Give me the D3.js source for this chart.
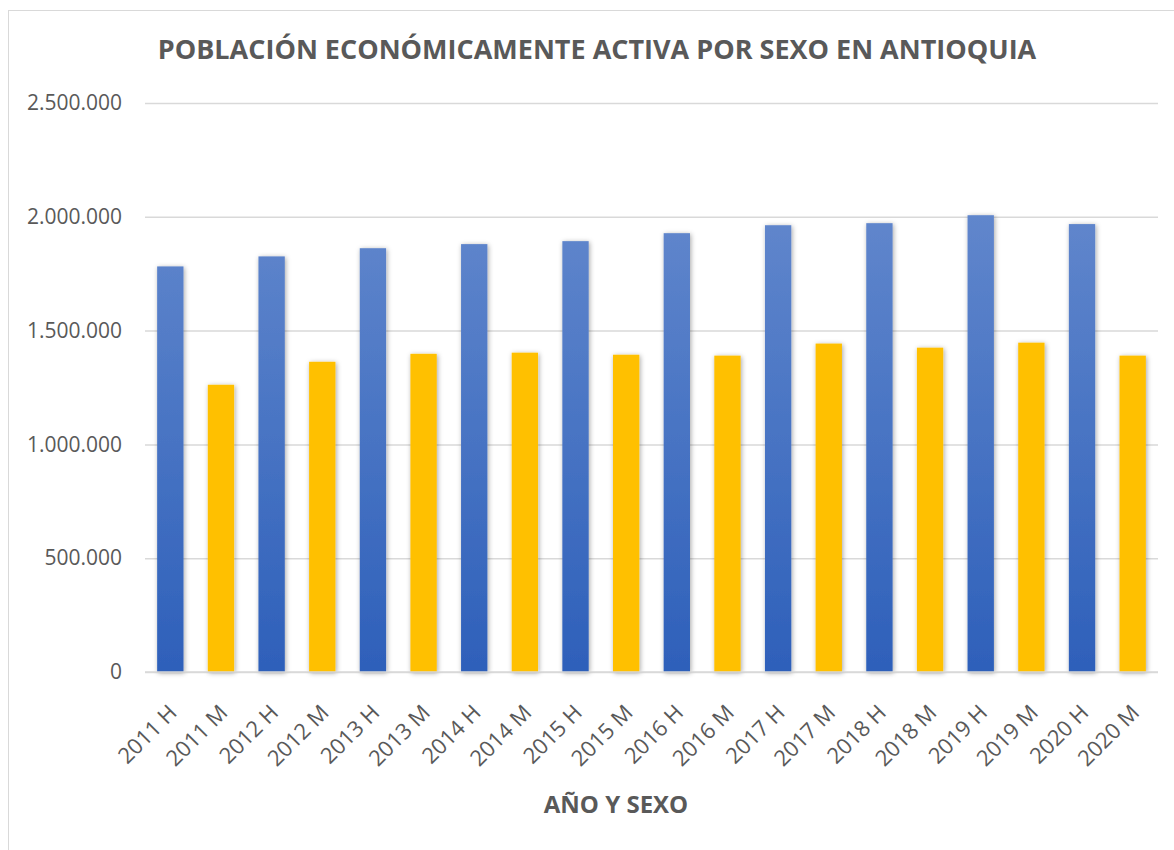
<!DOCTYPE html>
<html lang="es">
<head>
<meta charset="utf-8">
<script src="https://cdn.jsdelivr.net/npm/d3@7"></script>
<style>
  html, body { margin: 0; padding: 0; background: #ffffff; }
  svg { display: block; font-family: "Open Sans", "Noto Sans", sans-serif; }
</style>
</head>
<body>
<svg id="chart" width="1174" height="850"></svg>
<script>
// Población económicamente activa en Antioquia, por año y sexo (H = hombres, M = mujeres)
const categories = [
  "2011 H", "2011 M", "2012 H", "2012 M", "2013 H", "2013 M", "2014 H", "2014 M",
  "2015 H", "2015 M", "2016 H", "2016 M", "2017 H", "2017 M", "2018 H", "2018 M",
  "2019 H", "2019 M", "2020 H", "2020 M"
];
const values = [
  1782000, 1262000, 1826000, 1363000, 1862000, 1398000, 1880000, 1403000,
  1893000, 1394000, 1928000, 1390000, 1963000, 1443000, 1972000, 1425000,
  2007000, 1447000, 1968000, 1390000
];
const sexes = categories.map(c => c.slice(-1));
const yTicks = [0, 500000, 1000000, 1500000, 2000000, 2500000];
const title = "POBLACIÓN ECONÓMICAMENTE ACTIVA POR SEXO EN ANTIOQUIA";
const xTitle = "AÑO Y SEXO";

const svg = d3.select("#chart");
const textColor = "#595959";
const gridColor = "#d9d9d9";

// chart frame
svg.append("rect")
  .attr("x", 8.5).attr("y", 10.5)
  .attr("width", 1180).attr("height", 860)
  .attr("fill", "#ffffff")
  .attr("stroke", "#d9d9d9").attr("stroke-width", 1);

const plot = { left: 145, right: 1158, top: 103, bottom: 672 };

const x = d3.scaleBand()
  .domain(categories)
  .range([plot.left, plot.right])
  .paddingInner(0.48)
  .paddingOuter(0.24);

const y = d3.scaleLinear()
  .domain([0, 2500000])
  .range([plot.bottom, plot.top]);

const defs = svg.append("defs");
const grad = defs.append("linearGradient")
  .attr("id", "blueFill")
  .attr("gradientUnits", "userSpaceOnUse")
  .attr("x1", 0).attr("y1", y(0)).attr("x2", 0).attr("y2", y(2000000));
grad.append("stop").attr("offset", "0%").attr("stop-color", "#2e60ba");
grad.append("stop").attr("offset", "100%").attr("stop-color", "#6086cc");

const shadow = defs.append("filter")
  .attr("id", "barShadow")
  .attr("x", "-40%").attr("y", "-10%").attr("width", "180%").attr("height", "120%");
shadow.append("feDropShadow")
  .attr("dx", 1).attr("dy", 1)
  .attr("stdDeviation", 2.5)
  .attr("flood-color", "#000000")
  .attr("flood-opacity", 0.35);

// gridlines and value labels
const yAxis = d3.axisLeft(y)
  .tickValues(yTicks)
  .tickSize(-(plot.right - plot.left))
  .tickPadding(23)
  .tickFormat(d => d3.format(",")(d).replace(/,/g, "."));

const gy = svg.append("g")
  .attr("transform", `translate(${plot.left},0)`)
  .call(yAxis);
gy.select(".domain").remove();
gy.selectAll(".tick line")
  .attr("stroke", gridColor)
  .attr("stroke-width", 1.5);
gy.selectAll(".tick text")
  .attr("fill", textColor)
  .attr("font-size", 21)
  .attr("font-family", "'Open Sans', sans-serif");

// bars
svg.append("g")
  .selectAll("rect")
  .data(categories)
  .join("rect")
  .attr("x", d => x(d))
  .attr("y", (d, i) => y(values[i]))
  .attr("width", x.bandwidth())
  .attr("height", (d, i) => y(0) - y(values[i]))
  .attr("fill", (d, i) => sexes[i] === "H" ? "url(#blueFill)" : "#ffc000")
  .attr("filter", "url(#barShadow)");

// category axis
const xAxis = d3.axisBottom(x).tickSize(0).tickPadding(0);
const gx = svg.append("g")
  .attr("transform", `translate(0,${plot.bottom})`)
  .call(xAxis);
gx.select(".domain")
  .attr("stroke", gridColor)
  .attr("stroke-width", 1.5)
  .attr("d", `M${plot.left},0H${plot.right}`);
gx.selectAll(".tick text")
  .attr("fill", textColor)
  .attr("font-size", 22)
  .attr("font-family", "'Open Sans', sans-serif")
  .attr("text-anchor", "end")
  .attr("dy", 0)
  .attr("y", 0)
  .attr("transform", "translate(8,42) rotate(-45)");

// titles
svg.append("text")
  .attr("x", 597).attr("y", 59)
  .attr("text-anchor", "middle")
  .attr("fill", textColor)
  .attr("font-size", 27)
  .attr("font-weight", "bold")
  .text(title);

svg.append("text")
  .attr("x", 616).attr("y", 813)
  .attr("text-anchor", "middle")
  .attr("fill", textColor)
  .attr("font-size", 24)
  .attr("font-weight", "bold")
  .text(xTitle);
</script>
</body>
</html>
